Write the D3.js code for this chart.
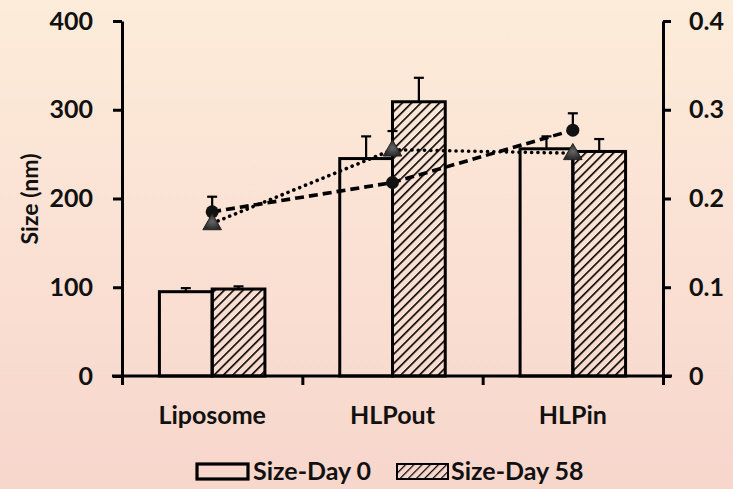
<!DOCTYPE html>
<html>
<head>
<meta charset="utf-8">
<script src="https://cdn.jsdelivr.net/npm/d3@7"></script>
<style>
  html, body { margin: 0; padding: 0; }
  svg { display: block; }
  text { font-family: Lato, "Open Sans", sans-serif; font-weight: 700; fill: #111; }
</style>
</head>
<body>
<div id="chart"></div>
<script>
// Particle size (bars, left axis) and polydispersity (markers, right axis)
const categories = ["Liposome", "HLPout", "HLPin"];
const sizeDay0 = [95, 245, 256];
const sizeDay0Err = [4, 25, 14];
const sizeDay58 = [98, 309, 253];
const sizeDay58Err = [3, 27, 14];
const circleSeries = [0.185, 0.218, 0.277];
const circleErr = [0.017, 0, 0.019];
const triangleSeries = [0.172, 0.255, 0.251];
const triangleErr = [0, 0.021, 0];
const leftTicks = [0, 100, 200, 300, 400];
const rightTicks = [0, 0.1, 0.2, 0.3, 0.4];
const legendLabels = ["Size-Day 0", "Size-Day 58"];

const W = 733, H = 489;
const FS = 25;
const svg = d3.select("#chart").append("svg").attr("width", W).attr("height", H);
const defs = svg.append("defs");

const bg = defs.append("linearGradient").attr("id", "bg")
  .attr("x1", 0).attr("y1", 0).attr("x2", 0).attr("y2", 1);
bg.append("stop").attr("offset", "0%").attr("stop-color", "#fdecda");
bg.append("stop").attr("offset", "100%").attr("stop-color", "#f7d6cc");
svg.append("rect").attr("width", W).attr("height", H).attr("fill", "url(#bg)");

function hatch(id, spacing, width) {
  const p = defs.append("pattern").attr("id", id)
    .attr("patternUnits", "userSpaceOnUse")
    .attr("width", spacing).attr("height", spacing)
    .attr("patternTransform", "rotate(45)");
  p.append("line").attr("x1", 0).attr("y1", 0).attr("x2", 0).attr("y2", spacing)
    .attr("stroke", "#000").attr("stroke-width", width);
}
hatch("hatchBar", 6.6, 3.2);
hatch("hatchLegend", 5.8, 2.4);

const triGrad = defs.append("radialGradient").attr("id", "triFill");
triGrad.append("stop").attr("offset", "0%").attr("stop-color", "#666");
triGrad.append("stop").attr("offset", "100%").attr("stop-color", "#2a2a2a");

const xLeft = 122, xRight = 663, yBottom = 376, yTop = 21;

const x0 = d3.scaleBand().domain(categories).range([xLeft, xRight]).padding(0);
const bw = x0.bandwidth();
const groupW = bw * 0.585;
const x1 = d3.scaleBand().domain(["d0", "d58"])
  .range([(bw - groupW) / 2, (bw + groupW) / 2]).padding(0);
const yL = d3.scaleLinear().domain([0, 400]).range([yBottom, yTop]);
const yR = d3.scaleLinear().domain([0, 0.4]).range([yBottom, yTop]);

const barData = categories.map((c, i) => [
  { c, key: "d0", v: sizeDay0[i], e: sizeDay0Err[i] },
  { c, key: "d58", v: sizeDay58[i], e: sizeDay58Err[i] }
]).flat();

// error bars (upper arm) for the size bars
const errG = svg.append("g").attr("stroke", "#000").attr("stroke-width", 2.2);
barData.forEach(d => {
  const cx = x0(d.c) + x1(d.key) + x1.bandwidth() / 2;
  errG.append("line").attr("x1", cx).attr("x2", cx)
    .attr("y1", yL(d.v)).attr("y2", yL(d.v + d.e));
  errG.append("line").attr("x1", cx - 5).attr("x2", cx + 5)
    .attr("y1", yL(d.v + d.e)).attr("y2", yL(d.v + d.e));
});

svg.append("g").selectAll("rect").data(barData).join("rect")
  .attr("x", d => x0(d.c) + x1(d.key))
  .attr("y", d => yL(d.v))
  .attr("width", x1.bandwidth())
  .attr("height", d => yBottom - yL(d.v))
  .attr("fill", d => d.key === "d0" ? "none" : "url(#hatchBar)")
  .attr("stroke", "#000").attr("stroke-width", 3);

// axes
const axisStyle = g => {
  g.selectAll("path.domain").attr("stroke", "#000").attr("stroke-width", 3);
  g.selectAll(".tick line").attr("stroke", "#000").attr("stroke-width", 3);
  g.selectAll(".tick text").attr("font-size", FS).style("font-family", "Lato, sans-serif")
    .style("font-weight", 700).attr("fill", "#111");
};

svg.append("g").attr("transform", `translate(${xLeft},0)`)
  .call(d3.axisLeft(yL).tickValues(leftTicks).tickSize(9).tickSizeOuter(0).tickPadding(20))
  .call(axisStyle);

svg.append("g").attr("transform", `translate(${xRight},0)`)
  .call(d3.axisRight(yR).tickValues(rightTicks).tickSize(8).tickSizeOuter(0)
    .tickPadding(18).tickFormat(d => d === 0 ? "0" : d3.format(".1f")(d)))
  .call(axisStyle);

const xTickScale = d3.scalePoint().domain([0, 1, 2, 3]).range([xLeft, xRight]);
const xAxis = svg.append("g").attr("transform", `translate(0,${yBottom})`)
  .call(d3.axisBottom(xTickScale).tickSize(9).tickSizeOuter(0).tickFormat(""))
  .call(axisStyle);
xAxis.select("path.domain").remove();
svg.append("line").attr("x1", xLeft - 10).attr("x2", xRight + 9)
  .attr("y1", yBottom).attr("y2", yBottom).attr("stroke", "#000").attr("stroke-width", 3);

svg.append("g").selectAll("text").data(categories).join("text")
  .attr("x", d => x0(d) + bw / 2).attr("y", 424)
  .attr("text-anchor", "middle").attr("font-size", FS).text(d => d);

svg.append("text").attr("transform", "translate(38,199) rotate(-90)")
  .attr("text-anchor", "middle").attr("font-size", 23).text("Size (nm)");

// marker series on the right axis
const mx = c => x0(c) + bw / 2;
const lineGen = vals => d3.line().x((d, i) => mx(categories[i])).y(d => yR(d))(vals);

svg.append("path").attr("d", lineGen(triangleSeries)).attr("fill", "none")
  .attr("stroke", "#000").attr("stroke-width", 3.6).attr("stroke-linecap", "round")
  .attr("stroke-dasharray", "0.1 6.2");
svg.append("path").attr("d", lineGen(circleSeries)).attr("fill", "none")
  .attr("stroke", "#000").attr("stroke-width", 3.6)
  .attr("stroke-dasharray", "9 5");

const mErr = svg.append("g").attr("stroke", "#000").attr("stroke-width", 2.2);
[[circleSeries, circleErr], [triangleSeries, triangleErr]].forEach(([vals, errs]) => {
  vals.forEach((v, i) => {
    if (!errs[i]) return;
    const cx = mx(categories[i]);
    mErr.append("line").attr("x1", cx).attr("x2", cx).attr("y1", yR(v)).attr("y2", yR(v + errs[i]));
    mErr.append("line").attr("x1", cx - 5).attr("x2", cx + 5)
      .attr("y1", yR(v + errs[i])).attr("y2", yR(v + errs[i]));
  });
});

svg.append("g").selectAll("circle").data(circleSeries).join("circle")
  .attr("cx", (d, i) => mx(categories[i])).attr("cy", d => yR(d))
  .attr("r", 6.5).attr("fill", "#111");

const tri = d3.symbol().type(d3.symbolTriangle).size(150);
svg.append("g").selectAll("path").data(triangleSeries).join("path")
  .attr("transform", (d, i) => `translate(${mx(categories[i])},${yR(d) + 1})`)
  .attr("d", tri).attr("fill", "url(#triFill)").attr("stroke", "#222").attr("stroke-width", 1);

// legend
const leg = svg.append("g");
const legItems = [
  { x: 197, fill: "none", label: legendLabels[0], tx: 253 },
  { x: 397, fill: "url(#hatchLegend)", label: legendLabels[1], tx: 451 }
];
legItems.forEach(it => {
  leg.append("rect").attr("x", it.x).attr("y", 464).attr("width", 51).attr("height", 15)
    .attr("fill", it.fill).attr("stroke", "#000").attr("stroke-width", it.fill === "none" ? 3.2 : 2);
  leg.append("text").attr("x", it.tx).attr("y", 480).attr("font-size", FS).text(it.label);
});
</script>
</body>
</html>
